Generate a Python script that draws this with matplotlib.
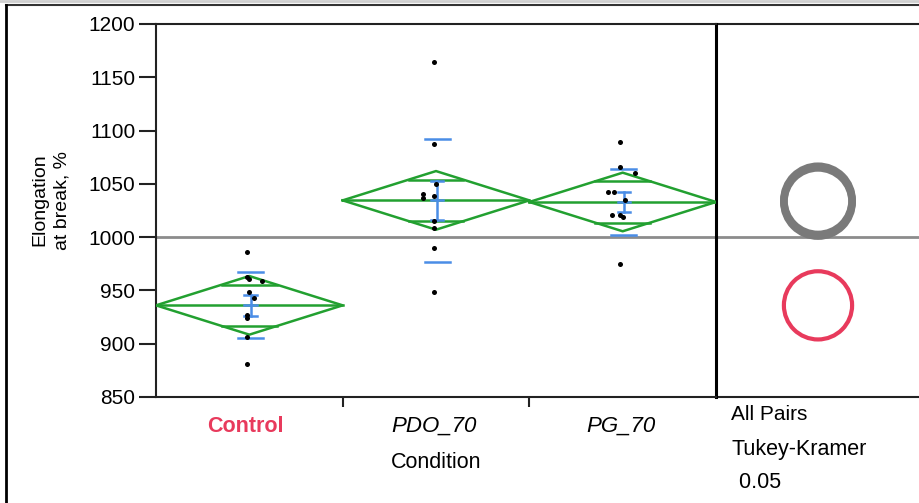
import matplotlib
matplotlib.use("Agg")
import matplotlib.pyplot as plt
from matplotlib.lines import Line2D
from matplotlib.patches import Circle
import numpy as np

plt.rcParams['font.family'] = ['Liberation Sans', 'DejaVu Sans']

# ---------------- data ----------------
categories = ["Control", "PDO_70", "PG_70"]
control_vals = [985.8, 962.9, 960.4, 958.8, 948.8, 943.2, 926.9, 923.8, 906.0, 880.7]
control_jit = [-0.011, -0.011, 0.0, 0.068, 0.0, 0.024, -0.011, -0.011, -0.011, -0.011]
pdo_vals = [1164.6, 1087.1, 1049.9, 1040.5, 1036.4, 1038.6, 1015.1, 1008.9, 989.5, 948.8]
pdo_jit = [-0.009, -0.009, 0.0, -0.068, -0.068, -0.009, -0.009, -0.009, -0.009, -0.009]
pg_vals = [1089.0, 1065.5, 1059.9, 1042.6, 1042.6, 1034.9, 1021.0, 1021.0, 1018.9, 974.5]
pg_jit = [-0.013, -0.013, 0.067, -0.079, -0.045, 0.012, -0.056, -0.013, 0.0, -0.013]

group_means = [936.0, 1034.5, 1033.0]
ci_half = [27.5, 27.5, 27.5]          # 95% CI half width (diamond)
std_dev = [31.0, 58.0, 31.0]          # blue std-dev lines
std_err = [10.0, 18.5, 9.5]           # blue error bars
grand_mean = 1000.0
circle_radius = 32.0                  # Tukey-Kramer comparison circles
yticks = [850, 900, 950, 1000, 1050, 1100, 1150, 1200]

values = [control_vals, pdo_vals, pg_vals]
jitters = [control_jit, pdo_jit, pg_jit]

GREEN = '#22a030'
BLUE = '#4a8de6'
RED = '#e83a5c'
GRAY = '#7a7a7a'

W, H = 919, 503
fig = plt.figure(figsize=(W / 100, H / 100), dpi=100)

ax2 = fig.add_axes([716 / W, 1 - 397 / H, (930 - 716) / W, (397 - 24) / H])
ax = fig.add_axes([156 / W, 1 - 397 / H, (716 - 156) / W, (397 - 24) / H])
ax2.patch.set_visible(False)
ax.patch.set_visible(False)

ymin, ymax = 850, 1200
for a in (ax, ax2):
    a.set_ylim(ymin, ymax)
    a.axhline(grand_mean, color='#8c8c8c', lw=2, zorder=1)

ax.set_xlim(-0.5, 2.5)

for i, (vals, jit) in enumerate(zip(values, jitters)):
    m, c = group_means[i], ci_half[i]
    # diamond
    ax.plot([i - 0.5, i, i + 0.5, i, i - 0.5], [m, m + c, m, m - c, m],
            color=GREEN, lw=1.8, zorder=3)
    # mean line
    ax.plot([i - 0.5, i + 0.5], [m, m], color=GREEN, lw=1.8, zorder=3)
    # overlap marks
    h = c / np.sqrt(2)
    hw = 0.5 * (1 - h / c)
    for s in (1, -1):
        ax.plot([i - hw, i + hw], [m + s * h, m + s * h], color=GREEN, lw=1.8, zorder=3)
    # std dev lines
    xc = i + 0.007
    for s in (1, -1):
        ax.plot([xc - 0.067, xc + 0.067], [m + s * std_dev[i]] * 2, color=BLUE, lw=1.8, zorder=4)
    # std err bar
    se = std_err[i]
    ax.plot([xc, xc], [m - se, m + se], color=BLUE, lw=1.8, zorder=4)
    for yy in (m - se, m, m + se):
        ax.plot([xc - 0.033, xc + 0.033], [yy, yy], color=BLUE, lw=1.8, zorder=4)
    # points
    ax.scatter(np.full(len(vals), i) + np.array(jit), vals, s=13, color='black',
               zorder=5, linewidths=0)

# y axis
ax.set_yticks(yticks)
ax.set_yticklabels([str(t) for t in yticks], fontsize=15)
ax.tick_params(axis='y', length=12, width=1.5, pad=3, color='#222222')
# x axis: ticks between categories
ax.set_xticks([0.5, 1.5])
ax.set_xticklabels([])
ax.tick_params(axis='x', length=7, width=1.5, color='#222222')

for sp in ax.spines.values():
    sp.set_color('#222222')
    sp.set_linewidth(1.5)
ax.spines['right'].set_linewidth(2.2)
ax.spines['right'].set_color('black')

trans = ax.get_xaxis_transform()
label_y = -(426 - 397) / (397 - 24)
for i, cat in enumerate(categories):
    if i == 0:
        ax.text(i - 0.02, label_y, cat, transform=trans, ha='center', va='center',
                fontsize=15.5, fontweight='bold', color=RED)
    else:
        ax.text(i - 0.01, label_y, cat, transform=trans, ha='center', va='center',
                fontsize=16, fontstyle='italic', color='black')
ax.text(1.0, -(462 - 397) / (397 - 24), "Condition", transform=trans, ha='center',
        va='center', fontsize=15.5)

fig.text(51 / W, 1 - 200 / H, "Elongation\nat break, %", rotation=90, ha='center',
         va='center', fontsize=14, multialignment='center', linespacing=1.45)

# right panel with comparison circles
ax2.set_xticks([])
ax2.set_yticks([])
for k in ('left', 'right'):
    ax2.spines[k].set_visible(False)
for k in ('top', 'bottom'):
    ax2.spines[k].set_color('#222222')
    ax2.spines[k].set_linewidth(1.5)
ax2_w_px = (930 - 716)
ax2_h_px = (397 - 24)
xspan = ax2_w_px / ax2_h_px * (ymax - ymin)
ax2.set_xlim(0, xspan)
cx = 102 / ax2_h_px * (ymax - ymin)
for i in (1, 2):
    ax2.add_patch(Circle((cx, group_means[i]), circle_radius, fill=False,
                         edgecolor=GRAY, lw=5.5, zorder=3))
ax2.add_patch(Circle((cx, group_means[0]), circle_radius, fill=False,
                     edgecolor=RED, lw=3, zorder=3))

fig.text(731 / W, 1 - 415 / H, "All Pairs", ha='left', va='center', fontsize=15)
fig.text(731 / W, 1 - 449 / H, "Tukey-Kramer", ha='left', va='center', fontsize=15.5)
fig.text(733 / W, 1 - 483 / H, " 0.05", ha='left', va='center', fontsize=15.5)

# outer frame
fig.add_artist(Line2D([0, 1], [1 - 1 / H, 1 - 1 / H], transform=fig.transFigure,
                      color='#cfcfcf', lw=2))
fig.add_artist(Line2D([5.5 / W, 1], [1 - 4.5 / H, 1 - 4.5 / H], transform=fig.transFigure,
                      color='#333333', lw=1.5))
fig.add_artist(Line2D([5.5 / W, 5.5 / W], [0, 1 - 4.5 / H], transform=fig.transFigure,
                      color='black', lw=2))

fig.savefig("out.png", dpi=100)
